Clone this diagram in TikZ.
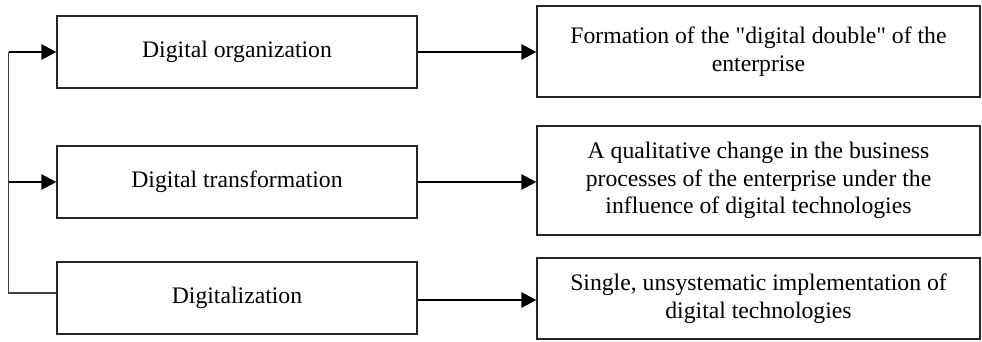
\documentclass[tikz,border=0pt]{standalone}
\usepackage{fontspec}
\setmainfont{Liberation Serif}
\usetikzlibrary{arrows.meta}

\begin{document}
\begin{tikzpicture}[x=1pt,y=-1pt,
  every node/.style={font=\fontsize{23.7}{27.5}\selectfont},
  levelbox/.style={draw=black!85,line width=1.1pt,minimum width=360pt,minimum height=72pt,inner sep=0pt},
  resultbox/.style={draw=black!85,line width=1.1pt,minimum width=443pt,align=center,inner sep=0pt},
  thickarrow/.style={line width=2.3pt,-{Triangle[length=15pt,width=15pt]}},
  busline/.style={draw=black!75,line width=1.1pt}]
\useasboundingbox (0,0) rectangle (982,341);
% levels of digitalization
\node[levelbox] (org) at (237,52) {Digital organization};
\node[levelbox] (trans) at (237,182) {Digital transformation};
\node[levelbox] (dig) at (237,298) {Digitalization};
% what each level means
\node[resultbox,minimum height=91pt] (double) at (758.5,51.5) {Formation of the \textquotedbl digital double\textquotedbl{} of the\\enterprise};
\node[resultbox,minimum height=109pt] (change) at (758.5,180.5) {A qualitative change in the business\\processes of the enterprise under the\\influence of digital technologies};
\node[resultbox,minimum height=81pt] (single) at (758.5,298.5) {Single, unsystematic implementation of\\digital technologies};
% bus on the left
\coordinate (bus) at (8.5,0);
\coordinate (digin) at ([yshift=5pt]dig.west);
\coordinate (digout) at ([yshift=-2pt]dig.east);
\draw[busline] (digin) -- (bus |- digin) -- (bus |- org.west);
\draw[thickarrow] (bus |- org.west) -- (org.west);
\draw[thickarrow] (bus |- trans.west) -- (trans.west);
% level to meaning
\draw[thickarrow] (org.east) -- (org.east -| double.west);
\draw[thickarrow] (trans.east) -- (trans.east -| change.west);
\draw[thickarrow] (digout) -- (digout -| single.west);
\end{tikzpicture}
\end{document}
